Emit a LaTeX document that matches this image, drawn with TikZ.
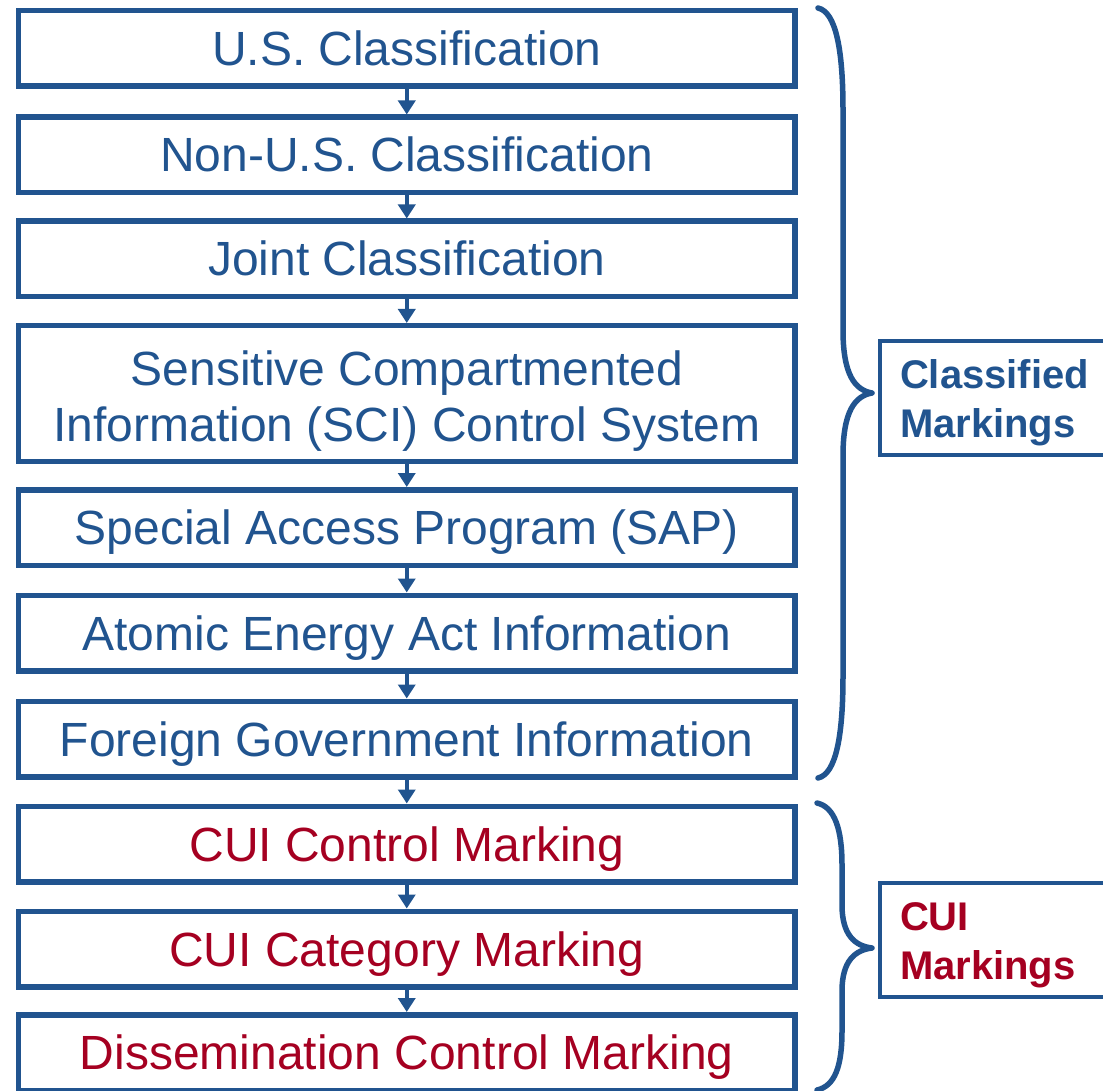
\documentclass[tikz,border=0pt]{standalone}
\usepackage{fontspec}
\setmainfont{Liberation Sans}
\usetikzlibrary{arrows.meta}
\definecolor{dblue}{RGB}{33,84,143}
\definecolor{dred}{RGB}{165,0,33}
\begin{document}
\begin{tikzpicture}[x=1pt,y=-1pt,
  boxbase/.style={draw=dblue, line width=5.5pt, minimum width=776.5pt,
    inner sep=0pt, font=\fontsize{48pt}{56pt}\selectfont},
  box/.style={boxbase, minimum height=75.5pt, text height=34pt, text depth=0pt},
  arr/.style={draw=dblue, line width=4pt, -{Triangle[width=17pt,length=14pt]}},
  lab/.style={draw=dblue, line width=4pt, anchor=west, align=left, text width=210pt,
    inner xsep=20pt, inner ysep=0pt, minimum height=114pt,
    text height=30pt, text depth=48.4pt,
    font=\bfseries\fontsize{40pt}{49pt}\selectfont},
  brace/.style={draw=dblue, line width=5.5pt, line cap=round, line join=round}]
\useasboundingbox (0,0) rectangle (1103,1091);
\node[box, text=dblue] (b1) at (406.75,48.5) {U.S. Classification};
\node[box, text=dblue] (b2) at (406.75,155) {Non-U.S. Classification};
\node[box, text=dblue] (b3) at (406.75,259) {Joint Classification};
\node[boxbase, minimum height=135.5pt, align=center, text height=95pt, text depth=0pt,
  text=dblue] (b4) at (406.75,393.5)
  {Sensitive Compartmented\\Information (SCI) Control System};
\node[box, text=dblue] (b5) at (406.75,527.5) {Special Access Program (SAP)};
\node[box, text=dblue] (b6) at (406.75,633) {Atomic Energy Act Information};
\node[box, text=dblue] (b7) at (406.75,739) {Foreign Government Information};
\node[box, text=dred] (b8) at (406.75,844) {CUI Control Marking};
\node[box, text=dred] (b9) at (406.75,949) {CUI Category Marking};
\node[box, text=dred] (b10) at (406.75,1052.5) {Dissemination Control Marking};
\foreach \a/\b in {b1/b2,b2/b3,b3/b4,b4/b5,b5/b6,b6/b7,b7/b8,b8/b9,b9/b10}
  \draw[arr] (\a) -- (\b);
\node[lab, text=dblue] (cm) at (878,398) {Classified\\Markings};
\node[lab, text=dred] (cu) at (878,940) {CUI\\Markings};
\draw[brace] (818,8) .. controls (836,12) and (843,50) .. (843,110) -- (843,330)
  .. controls (843,375) and (855,390) .. (872,393)
  .. controls (855,396) and (843,411) .. (843,456) -- (843,676)
  .. controls (843,736) and (836,774) .. (818,778);
\draw[brace] (817,803) .. controls (835,807) and (842,830) .. (842,865) -- (842,905)
  .. controls (842,935) and (855,946) .. (872,948)
  .. controls (855,950) and (842,961) .. (842,991) -- (842,1031)
  .. controls (842,1066) and (835,1086) .. (817,1090);
\end{tikzpicture}
\end{document}
